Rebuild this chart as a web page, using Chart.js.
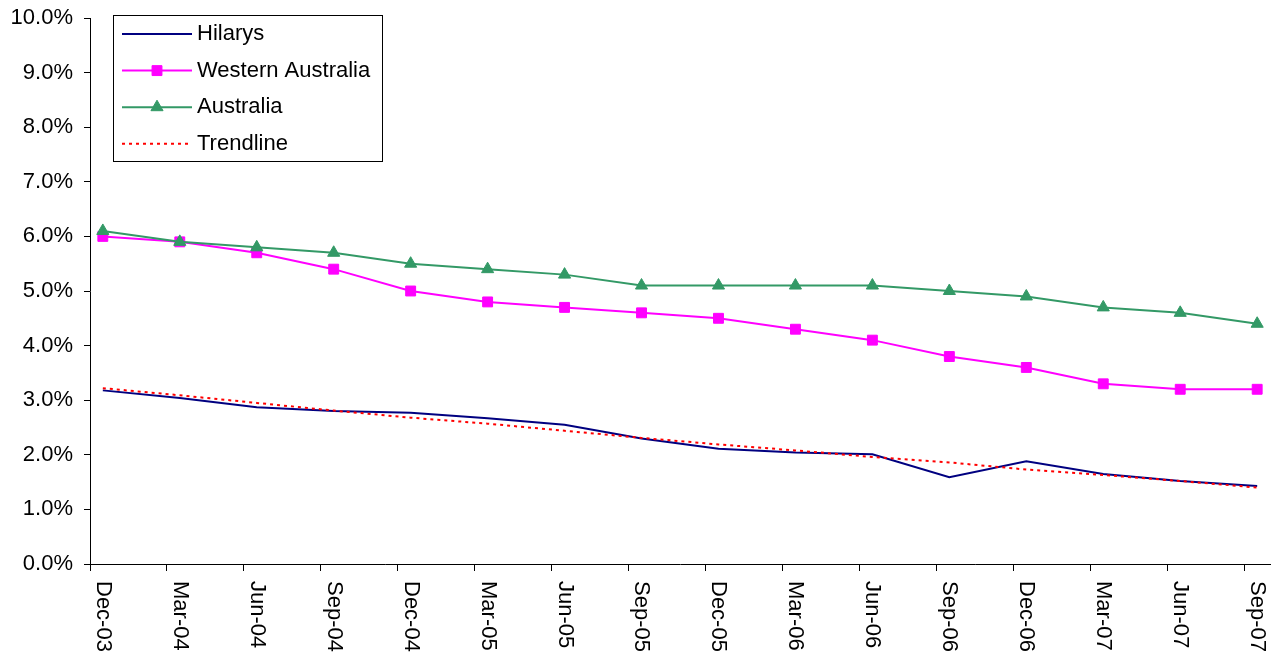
<!DOCTYPE html>
<html>
<head>
<script src="https://cdn.jsdelivr.net/npm/chart.js"></script>
<style>
  html, body { margin: 0; padding: 0; background: #fff; }
</style>
</head>
<body>
<canvas id="rateChart" width="1284" height="657"></canvas>

<script>
    const quarters = ['Dec-03', 'Mar-04', 'Jun-04', 'Sep-04', 'Dec-04', 'Mar-05', 'Jun-05', 'Sep-05',
                      'Dec-05', 'Mar-06', 'Jun-06', 'Sep-06', 'Dec-06', 'Mar-07', 'Jun-07', 'Sep-07'];
    const hilarys = [3.18, 3.04, 2.87, 2.80, 2.77, 2.67, 2.55, 2.30, 2.11, 2.04, 2.01, 1.59, 1.88, 1.65, 1.52, 1.43];
    const westernAustralia = [6.0, 5.9, 5.7, 5.4, 5.0, 4.8, 4.7, 4.6, 4.5, 4.3, 4.1, 3.8, 3.6, 3.3, 3.2, 3.2];
    const australia = [6.1, 5.9, 5.8, 5.7, 5.5, 5.4, 5.3, 5.1, 5.1, 5.1, 5.1, 5.0, 4.9, 4.7, 4.6, 4.4];
    const trendline = [3.22, 3.09, 2.95, 2.81, 2.68, 2.57, 2.44, 2.31, 2.19, 2.08, 1.96, 1.86, 1.73, 1.63, 1.52, 1.40];
    const yMin = 0, yMax = 10, yStep = 1;

    const FONT = '"Liberation Sans", Arial, sans-serif';
    const FONT_SIZE = 22;
    // date axis: one tick per quarter, each point sits half a month past its tick
    const monthOf = i => i * 3;
    const points = arr => arr.map((v, i) => ({ x: monthOf(i) + 0.5, y: v }));

    // rotated (top-to-bottom) quarter labels
    const quarterLabels = {
        id: 'quarterLabels',
        afterDraw(chart) {
            const { ctx, chartArea, scales: { x } } = chart;
            ctx.save();
            ctx.font = FONT_SIZE + 'px ' + FONT;
            ctx.fillStyle = '#000';
            ctx.textAlign = 'left';
            ctx.textBaseline = 'middle';
            quarters.forEach((q, i) => {
                ctx.save();
                ctx.translate(x.getPixelForValue(monthOf(i) + 0.5), chartArea.bottom + 17);
                ctx.rotate(Math.PI / 2);
                ctx.fillText(q, 0, 0);
                ctx.restore();
            });
            ctx.restore();
        }
    };

    // boxed legend like the spreadsheet one
    const boxLegend = {
        id: 'boxLegend',
        afterDraw(chart) {
            const { ctx, chartArea } = chart;
            const left = chartArea.left + 23, top = chartArea.top - 3, w = 269, h = 146;
            ctx.save();
            ctx.fillStyle = '#fff';
            ctx.fillRect(left, top, w, h);
            ctx.strokeStyle = '#000';
            ctx.lineWidth = 1;
            ctx.strokeRect(left + 0.5, top + 0.5, w, h);
            ctx.font = FONT_SIZE + 'px ' + FONT;
            ctx.textBaseline = 'middle';
            ctx.textAlign = 'left';
            chart.data.datasets.forEach((ds, i) => {
                const y = top + 19 + i * 36.6;
                ctx.save();
                ctx.strokeStyle = ds.borderColor;
                ctx.lineWidth = ds.borderWidth;
                ctx.setLineDash(ds.borderDash || []);
                ctx.beginPath();
                ctx.moveTo(left + 9, y);
                ctx.lineTo(left + 79, y);
                ctx.stroke();
                ctx.restore();
                if (ds.pointRadius > 0) {
                    ctx.fillStyle = ds.pointBackgroundColor;
                    ctx.strokeStyle = ds.borderColor;
                    Chart.helpers.drawPoint(ctx, { pointStyle: ds.pointStyle, radius: ds.pointRadius, borderWidth: 1, rotation: 0 }, left + 44, y);
                }
                ctx.fillStyle = '#000';
                ctx.fillText(ds.label, left + 84, y);
            });
            ctx.restore();
        }
    };

    new Chart(document.getElementById('rateChart'), {
        type: 'line',
        data: {
            datasets: [
                { label: 'Hilarys', data: points(hilarys), borderColor: '#000080', borderWidth: 2,
                  pointRadius: 0, order: 3 },
                { label: 'Western Australia', data: points(westernAustralia), borderColor: '#FF00FF',
                  backgroundColor: '#FF00FF', pointBackgroundColor: '#FF00FF', borderWidth: 2,
                  pointStyle: 'rect', pointRadius: 7, pointBorderWidth: 1, order: 2 },
                { label: 'Australia', data: points(australia), borderColor: '#339966',
                  backgroundColor: '#339966', pointBackgroundColor: '#339966', borderWidth: 2,
                  pointStyle: 'triangle', pointRadius: 7, pointBorderWidth: 1, order: 1 },
                { label: 'Trendline', data: points(trendline), borderColor: '#FF0000', borderWidth: 2,
                  borderDash: [3, 4], pointRadius: 0, order: 0 }
            ]
        },
        options: {
            responsive: false,
            animation: false,
            events: [],
            layout: { padding: { top: 18, right: 14, left: 0, bottom: 0 } },
            elements: { line: { tension: 0 } },
            plugins: { legend: { display: false }, tooltip: { enabled: false } },
            scales: {
                x: {
                    type: 'linear',
                    min: 0,
                    max: monthOf(quarters.length - 1) + 1,
                    afterBuildTicks: s => { s.ticks = quarters.map((q, i) => ({ value: monthOf(i) })); },
                    afterFit: s => { s.height = 93; s.paddingLeft = 0; s.paddingRight = 0; },
                    ticks: { display: false },
                    grid: { drawOnChartArea: false, drawTicks: true, tickLength: 7, color: '#000' },
                    border: { color: '#000', width: 1 }
                },
                y: {
                    min: yMin,
                    max: yMax,
                    afterFit: s => { s.width = 90; s.paddingTop = 0; s.paddingBottom = 0; },
                    ticks: {
                        stepSize: yStep,
                        color: '#000',
                        padding: 11,
                        font: { family: FONT, size: FONT_SIZE },
                        callback: v => v.toFixed(1) + '%'
                    },
                    grid: { drawOnChartArea: false, drawTicks: true, tickLength: 6, color: '#000' },
                    border: { color: '#000', width: 1 }
                }
            }
        },
        plugins: [quarterLabels, boxLegend]
    });
</script>
</body>
</html>
